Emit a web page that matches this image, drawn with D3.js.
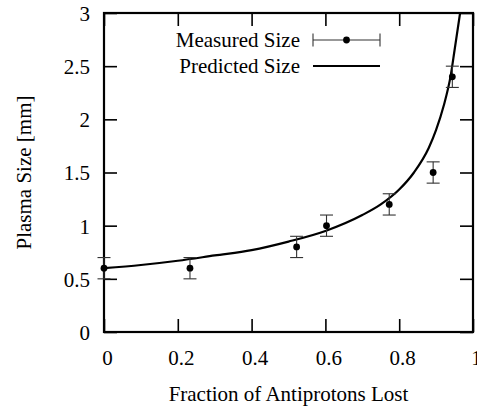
<!DOCTYPE html>
<html>
<head>
<meta charset="utf-8">
<script src="https://cdn.jsdelivr.net/npm/d3@7"></script>
<style>
  html, body { margin: 0; padding: 0; background: #fff; }
  svg text { font-family: "Liberation Serif", "Times New Roman", Times, "DejaVu Serif", serif !important; }
</style>
</head>
<body>
<svg id="chart" width="477" height="410"></svg>
<script>
// measured plasma size with error bars
const measuredFrac = [0, 0.233, 0.522, 0.603, 0.773, 0.892, 0.944];
const measuredSize = [0.6, 0.6, 0.8, 1.0, 1.2, 1.5, 2.4];
const measuredErr = [0.1, 0.1, 0.1, 0.1, 0.1, 0.1, 0.1];

// predicted curve
const predictedFrac = [0, 0.1, 0.2, 0.3, 0.4, 0.5, 0.6, 0.7, 0.75, 0.8, 0.84, 0.88, 0.9, 0.92, 0.94, 0.95, 0.965];
const predictedSize = [0.6, 0.63, 0.67, 0.72, 0.77, 0.85, 0.95, 1.1, 1.2, 1.34, 1.5, 1.73, 1.9, 2.12, 2.42, 2.65, 3.0];

const xTicks = [0, 0.2, 0.4, 0.6, 0.8, 1];
const yTicks = [0, 0.5, 1, 1.5, 2, 2.5, 3];

const legendLabels = ["Measured Size", "Predicted Size"];

const margin = { top: 13, right: 4, bottom: 78, left: 104 };
const width = 477, height = 410;
const fontSize = 21;
const fontFamily = "'Liberation Serif', 'Times New Roman', Times, 'DejaVu Serif', serif";
const tickLen = 13;

const svg = d3.select("#chart");

const x = d3.scaleLinear().domain([0, 1]).range([margin.left, width - margin.right]);
const y = d3.scaleLinear().domain([0, 3]).range([height - margin.bottom, margin.top]);

// axes with inward ticks
const gBottom = svg.append("g")
  .attr("transform", `translate(0,${y(0)})`)
  .call(d3.axisBottom(x).tickValues(xTicks).tickSize(-tickLen).tickFormat(d3.format("")));
const gTop = svg.append("g")
  .attr("transform", `translate(0,${y(3)})`)
  .call(d3.axisTop(x).tickValues(xTicks).tickSize(-tickLen).tickFormat(""));
const gLeft = svg.append("g")
  .attr("transform", `translate(${x(0)},0)`)
  .call(d3.axisLeft(y).tickValues(yTicks).tickSize(-tickLen).tickFormat(d3.format("")));
const gRight = svg.append("g")
  .attr("transform", `translate(${x(1)},0)`)
  .call(d3.axisRight(y).tickValues(yTicks).tickSize(-tickLen).tickFormat(""));

[gBottom, gTop, gLeft, gRight].forEach(g => {
  g.attr("font-family", fontFamily).attr("font-size", fontSize);
  g.select(".domain").remove();
  g.selectAll(".tick line").attr("stroke", "#000").attr("stroke-width", 1.6);
  g.selectAll(".tick text").attr("fill", "#000");
});

gBottom.selectAll(".tick text").attr("y", 33).attr("dy", null).attr("dx", 3);
gLeft.selectAll(".tick text").attr("x", -14).attr("dy", "0.35em");

// frame
svg.append("rect")
  .attr("x", x(0)).attr("y", y(3))
  .attr("width", x(1) - x(0)).attr("height", y(0) - y(3))
  .attr("fill", "none").attr("stroke", "#000").attr("stroke-width", 2.2);

// axis titles
svg.append("text")
  .attr("x", (x(0) + x(1)) / 2).attr("y", 401)
  .attr("text-anchor", "middle")
  .attr("font-family", fontFamily).attr("font-size", fontSize)
  .text("Fraction of Antiprotons Lost");
svg.append("text")
  .attr("transform", `translate(31,${(y(0) + y(3)) / 2}) rotate(-90)`)
  .attr("text-anchor", "middle")
  .attr("font-family", fontFamily).attr("font-size", fontSize)
  .text("Plasma Size [mm]");

// clip for the curve
svg.append("clipPath").attr("id", "plotClip")
  .append("rect")
  .attr("x", x(0)).attr("y", y(3))
  .attr("width", x(1) - x(0)).attr("height", y(0) - y(3));

const line = d3.line()
  .x(i => x(predictedFrac[i]))
  .y(i => y(predictedSize[i]))
  .curve(d3.curveMonotoneX);

svg.append("path")
  .attr("clip-path", "url(#plotClip)")
  .attr("d", line(d3.range(predictedFrac.length)))
  .attr("fill", "none").attr("stroke", "#000").attr("stroke-width", 2.2);

// error bars
const capW = 6.5;
const pts = svg.append("g").selectAll("g")
  .data(d3.range(measuredFrac.length))
  .enter().append("g");
pts.append("line")
  .attr("x1", i => x(measuredFrac[i])).attr("x2", i => x(measuredFrac[i]))
  .attr("y1", i => y(measuredSize[i] - measuredErr[i]))
  .attr("y2", i => y(measuredSize[i] + measuredErr[i]))
  .attr("stroke", "#333").attr("stroke-width", 1.1);
[-1, 1].forEach(s => {
  pts.append("line")
    .attr("x1", i => x(measuredFrac[i]) - capW).attr("x2", i => x(measuredFrac[i]) + capW)
    .attr("y1", i => y(measuredSize[i] + s * measuredErr[i]))
    .attr("y2", i => y(measuredSize[i] + s * measuredErr[i]))
    .attr("stroke", "#333").attr("stroke-width", 1.1);
});
pts.append("circle")
  .attr("cx", i => x(measuredFrac[i])).attr("cy", i => y(measuredSize[i]))
  .attr("r", 3.4).attr("fill", "#000");

// legend
const legX1 = 313, legX2 = 380, legTextX = 300;
const leg = svg.append("g").attr("font-family", fontFamily).attr("font-size", fontSize);
leg.append("text").attr("x", legTextX).attr("y", 46.5)
  .attr("text-anchor", "end").text(legendLabels[0]);
leg.append("text").attr("x", legTextX).attr("y", 72.5)
  .attr("text-anchor", "end").text(legendLabels[1]);
leg.append("line").attr("x1", legX1).attr("x2", legX2).attr("y1", 40).attr("y2", 40)
  .attr("stroke", "#333").attr("stroke-width", 1.1);
[legX1, legX2].forEach(cx => {
  leg.append("line").attr("x1", cx).attr("x2", cx).attr("y1", 33.5).attr("y2", 46.5)
    .attr("stroke", "#333").attr("stroke-width", 1.1);
});
leg.append("circle").attr("cx", (legX1 + legX2) / 2).attr("cy", 40).attr("r", 3.4).attr("fill", "#000");
leg.append("line").attr("x1", legX1).attr("x2", legX2).attr("y1", 66).attr("y2", 66)
  .attr("stroke", "#000").attr("stroke-width", 2.2);
</script>
</body>
</html>
